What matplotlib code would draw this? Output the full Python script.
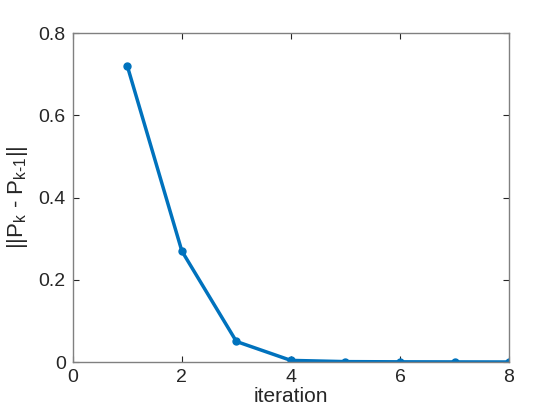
import matplotlib
matplotlib.use("Agg")
import matplotlib.pyplot as plt

plt.rcParams["font.family"] = ["Liberation Sans", "DejaVu Sans"]
plt.rcParams["mathtext.default"] = "regular"

iterations = [1, 2, 3, 4, 5, 6, 7, 8]
diff_norm = [0.72, 0.27, 0.05, 0.004, 0.001, 0.0005, 0.0003, 0.0001]

xticks = [0, 2, 4, 6, 8]
yticks = [0, 0.2, 0.4, 0.6, 0.8]
yticklabels = ["0", "0.2", "0.4", "0.6", "0.8"]

fig = plt.figure(figsize=(5.6, 4.2), dpi=100)
ax = fig.add_axes([0.130, 0.138, 0.779, 0.783])

ax.plot(iterations, diff_norm, color="#0072BD", linewidth=2.5,
        marker=".", markersize=10)

ax.set_xlim(0, 8)
ax.set_ylim(0, 0.8)
ax.set_xticks(xticks)
ax.set_yticks(yticks)
ax.set_yticklabels(yticklabels)

for sp in ax.spines.values():
    sp.set_color("#808080")
    sp.set_linewidth(1.0)
ax.tick_params(direction="in", length=4, width=0.8, color="#262626",
               labelsize=14, labelcolor="#262626", top=True, right=True, pad=5)

ax.set_xlabel("iteration", fontsize=15, color="#262626", labelpad=1)
ax.set_ylabel("||P$_k$ - P$_{k\u20101}$||", fontsize=16, color="#262626", labelpad=6)

fig.savefig("out.png", dpi=100)
